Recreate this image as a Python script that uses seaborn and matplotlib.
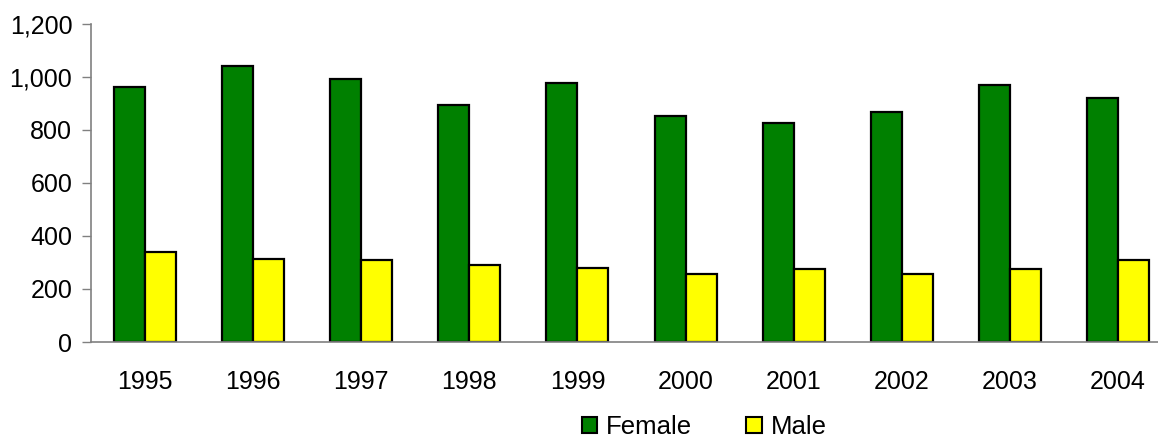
import pandas as pd
import numpy as np
import matplotlib
matplotlib.use("Agg")
import matplotlib.pyplot as plt
import seaborn as sns
from matplotlib.ticker import FuncFormatter
from matplotlib.patches import Patch

# values
years = ['1995', '1996', '1997', '1998', '1999', '2000', '2001', '2002', '2003', '2004']
female = [964, 1043, 992, 896, 977, 853, 825, 867, 969, 922]
male = [340, 315, 310, 292, 281, 258, 276, 258, 277, 309]

df = pd.DataFrame({'year': years * 2,
                   'count': female + male,
                   'sex': ['Female'] * len(years) + ['Male'] * len(years)})

sns.set_style("white")
plt.rcParams['font.family'] = ['Liberation Sans', 'DejaVu Sans']
plt.rcParams['text.color'] = 'black'

fig = plt.figure(figsize=(11.58, 4.40), dpi=100)
ax = fig.add_axes([91 / 1158, 1 - 342 / 440, 1081 / 1158, 318 / 440])

sns.barplot(data=df, x='year', y='count', hue='sex',
            palette={'Female': '#008000', 'Male': '#ffff00'},
            width=0.574, edgecolor='black', linewidth=1.6, saturation=1,
            ax=ax, legend=False)

ax.set_ylim(0, 1200)
ax.set_xlim(-0.5, 9.5)
ax.set_yticks(range(0, 1201, 200))
ax.yaxis.set_major_formatter(FuncFormatter(lambda v, p: f"{int(v):,}"))
ax.set_xlabel("")
ax.set_ylabel("")
ax.tick_params(axis='y', which='major', left=True, length=6.5, width=1,
               color='#808080', labelsize=18, labelcolor='black', pad=7)
ax.tick_params(axis='x', bottom=False, labelsize=18, labelcolor='black', pad=17)
for s in ['top', 'right']:
    ax.spines[s].set_visible(False)
for s in ['left', 'bottom']:
    ax.spines[s].set_color('#808080')
    ax.spines[s].set_linewidth(1.2)

handles = [Patch(facecolor='#008000', edgecolor='black', linewidth=1.5, label='Female'),
           Patch(facecolor='#ffff00', edgecolor='black', linewidth=1.5, label='Male')]
fig.legend(handles=handles, loc='center', bbox_to_anchor=(0.608, 0.03), ncol=2,
           frameon=False, fontsize=18.5, handlelength=0.6, handleheight=0.6,
           handletextpad=0.35, columnspacing=2.1, borderaxespad=0, borderpad=0)

fig.savefig("out.png", dpi=100)
